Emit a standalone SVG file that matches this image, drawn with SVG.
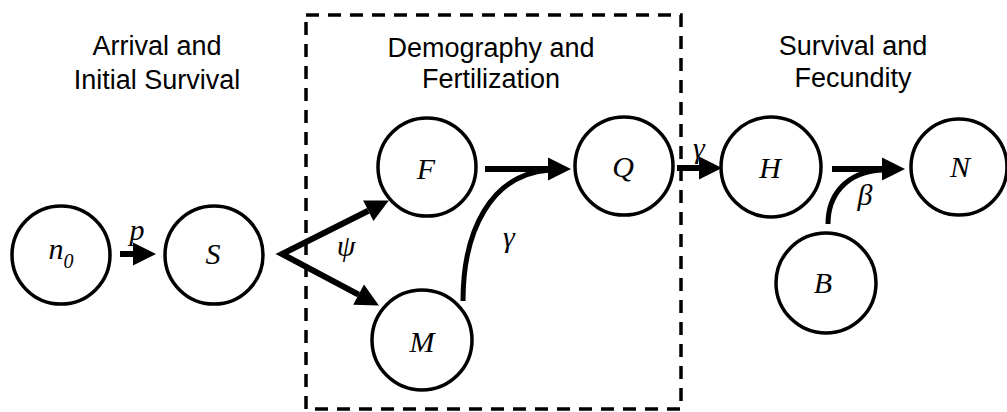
<svg xmlns="http://www.w3.org/2000/svg" width="1007" height="412" viewBox="0 0 1007 412">
<style>
.title{font-family:"Liberation Sans",Arial,sans-serif;font-size:27px;fill:#000;text-anchor:middle}
.node circle{fill:#fff;stroke:#000;stroke-width:3.5}
.lbl{font-family:"Liberation Serif","Times New Roman",serif;font-style:italic;font-size:30px;fill:#000;text-anchor:middle}
.edge{fill:none;stroke:#000;stroke-width:6}
.curve{fill:none;stroke:#000;stroke-width:5}
.box{fill:none;stroke:#000;stroke-width:3.5;stroke-dasharray:13 9}
</style>
<defs>
<marker id="ah" markerUnits="userSpaceOnUse" markerWidth="24" markerHeight="24" viewBox="0 0 24 24" refX="0" refY="12" orient="auto-start-reverse" overflow="visible">
<path d="M0,0.5 L23,12 L0,23.5 z" fill="#000"/>
</marker>
</defs>
<rect fill="#fff" x="0" y="0" width="1007" height="412"/>
<g id="titles">
<text class="title" x="157" y="55">Arrival and</text>
<text class="title" x="157" y="89">Initial Survival</text>
<text class="title" x="491" y="57">Demography and</text>
<text class="title" x="491" y="88">Fertilization</text>
<text class="title" x="853" y="55">Survival and</text>
<text class="title" x="853" y="87">Fecundity</text>
</g>
<rect id="stage-box" class="box" x="306" y="15" width="375" height="394"/>
<g id="connectors">
<path class="edge" d="M120,254 L133,254" marker-end="url(#ah)"/>
<path class="edge" d="M358.6,294.7 L282,254 L368.3,210.8" stroke-linejoin="miter" stroke-miterlimit="10" marker-start="url(#ah)" marker-end="url(#ah)"/>
<path class="edge" d="M485,169 L548,169" marker-end="url(#ah)"/>
<path class="curve" d="M463,301 C463,232 490,174 550,170"/>
<path class="edge" d="M677,168 L699,168" marker-end="url(#ah)"/>
<path class="edge" d="M832,169 L882,169" marker-end="url(#ah)"/>
<path class="curve" d="M828,224 C828,196 845,172 882,170"/>
<text class="lbl" x="137" y="240">p</text>
<text class="lbl" x="346" y="256" font-size="28">ψ</text>
<text class="lbl" x="509" y="247" font-size="28">γ</text>
<text class="lbl" x="699" y="158" font-size="28">γ</text>
<text class="lbl" x="865" y="205" font-size="28">β</text>
</g>
<g id="node-n0" class="node"><circle cx="61" cy="255" r="49"/><text class="lbl" x="61" y="259" font-size="28">n<tspan font-size="20" dy="9">0</tspan></text></g>
<g id="node-S" class="node"><circle cx="214" cy="255" r="49"/><text class="lbl" x="213" y="264">S</text></g>
<g id="node-F" class="node"><circle cx="427" cy="167" r="49"/><text class="lbl" x="426" y="179">F</text></g>
<g id="node-Q" class="node"><circle cx="624" cy="166" r="49"/><text class="lbl" x="623" y="177">Q</text></g>
<g id="node-M" class="node"><circle cx="422" cy="340" r="50"/><text class="lbl" x="422" y="352">M</text></g>
<g id="node-H" class="node"><circle cx="771" cy="167" r="50"/><text class="lbl" x="770" y="178">H</text></g>
<g id="node-N" class="node"><circle cx="959" cy="167" r="48"/><text class="lbl" x="960" y="177">N</text></g>
<g id="node-B" class="node"><circle cx="826" cy="283" r="50"/><text class="lbl" x="823" y="293">B</text></g>
</svg>
